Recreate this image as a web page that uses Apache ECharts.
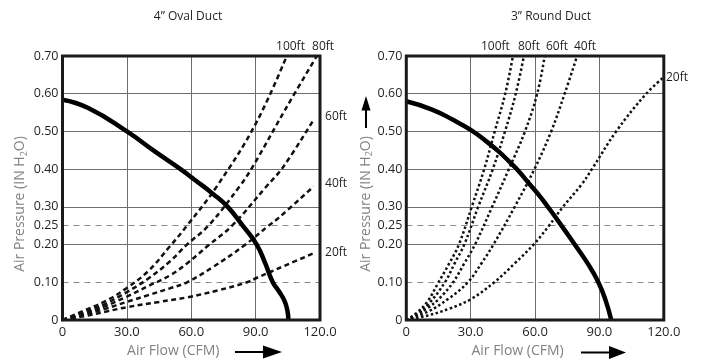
<!DOCTYPE html>
<html>
<head>
<meta charset="utf-8">
<script src="https://cdn.jsdelivr.net/npm/echarts@6/dist/echarts.min.js"></script>
<style>
  html, body { margin: 0; padding: 0; background: #fff; }
  #chart { width: 702px; height: 360px; }
</style>
</head>
<body>
<div id="chart"></div>
<script>
// tick labels
const yTickValues = [0, 0.1, 0.2, 0.25, 0.3, 0.4, 0.5, 0.6, 0.7];
const yTickLabels = ['0', '0.10', '0.20', '0.25', '0.30', '0.40', '0.50', '0.60', '0.70'];
const xTickValues = [0, 30, 60, 90, 120];
const xTickLabels = ['0', '30.0', '60.0', '90.0', '120.0'];
const solidLevels = [0.2, 0.3, 0.4, 0.5, 0.6];
const dashedLevels = [0.1, 0.25];
const ductLengths = ['100ft', '80ft', '60ft', '40ft', '20ft'];

// 4" oval duct: fan curve and system curves, [CFM, in H2O]
const ovalFan = [[0, 0.584], [12, 0.562], [30, 0.50], [43, 0.447], [55, 0.40], [62, 0.37], [70, 0.335], [77, 0.30], [84, 0.25], [90.5, 0.20], [94.5, 0.15], [98, 0.10], [101, 0.075], [103.5, 0.05], [104.8, 0.025], [105.3, 0]];
const oval100 = [[0, 0], [10, 0.025], [20, 0.05], [30, 0.085], [40, 0.13], [50, 0.195], [58, 0.25], [72, 0.355], [90, 0.52], [104.5, 0.70]];
const oval80 = [[0, 0], [10, 0.02], [20, 0.043], [30, 0.074], [40, 0.11], [50, 0.155], [58, 0.20], [68, 0.25], [83, 0.358], [89, 0.41], [104, 0.56], [118.5, 0.70]];
const oval60 = [[0, 0], [10, 0.017], [20, 0.037], [30, 0.062], [40, 0.09], [50, 0.118], [58, 0.15], [68, 0.198], [79, 0.25], [95, 0.354], [103, 0.407], [117, 0.531]];
const oval40 = [[0, 0], [10, 0.014], [20, 0.03], [30, 0.048], [40, 0.066], [50, 0.084], [58, 0.10], [70, 0.14], [85, 0.199], [96, 0.25], [100.6, 0.27], [117, 0.354]];
const oval20 = [[0, 0], [10, 0.01], [20, 0.022], [30, 0.034], [45, 0.048], [58, 0.06], [72.7, 0.079], [86, 0.10], [90.6, 0.112], [104, 0.145], [117, 0.177]];

// 3" round duct
const roundFan = [[0, 0.58], [12, 0.558], [22, 0.53], [30, 0.504], [37, 0.475], [43, 0.447], [48, 0.42], [52, 0.397], [57.5, 0.36], [62, 0.33], [66, 0.30], [72, 0.253], [78.5, 0.20], [84.5, 0.15], [89.5, 0.10], [93, 0.05], [95.5, 0]];
const round100 = [[0, 0], [5, 0.02], [10, 0.05], [15, 0.10], [20, 0.15], [24.5, 0.20], [30.5, 0.30], [36.3, 0.40], [41.2, 0.50], [46.1, 0.60], [49.7, 0.70]];
const round80 = [[0, 0], [5, 0.017], [10, 0.04], [18, 0.10], [22.5, 0.15], [27, 0.20], [33.5, 0.30], [40.3, 0.40], [46, 0.50], [51, 0.60], [54.8, 0.70]];
const round60 = [[0, 0], [5, 0.014], [10, 0.032], [15, 0.055], [21.8, 0.10], [27, 0.15], [32, 0.20], [40, 0.30], [47.8, 0.40], [55.3, 0.50], [61, 0.60], [64.5, 0.70]];
const round40 = [[0, 0], [10, 0.022], [20, 0.058], [28.7, 0.10], [35, 0.15], [40.6, 0.20], [50.5, 0.30], [59.7, 0.40], [67.5, 0.50], [73.8, 0.60], [79.6, 0.70]];
const round20 = [[0, 0], [10, 0.012], [20, 0.03], [30, 0.055], [41, 0.10], [50.5, 0.15], [59.3, 0.20], [66.5, 0.25], [73, 0.30], [81.5, 0.358], [86.5, 0.40], [97.8, 0.50], [111.8, 0.60], [119.6, 0.642]];

const FONT = '"Open Sans", "Noto Sans", sans-serif';
const INK = '#231f20';

// where the "NNft" tags sit relative to each curve's end point
const ovalTagOffsets = [[-10.7, -9.5], [-4.7, -9.5], [11.5, -3], [11.5, -2.6], [11.5, -1]];
const roundTagOffsets = [[-32, -9.5], [-6, -9.5], [1.2, -9.5], [-3.2, -9.5], [3, 0]];

function pickLabel(values, labels, v) {
  const i = values.findIndex(t => Math.abs(t - v) < 1e-6);
  return i < 0 ? '' : labels[i];
}

function xAxisFor(gridIndex, nameShift) {
  return {
    type: 'value',
    gridIndex,
    min: 0,
    max: 120,
    interval: 30,
    name: 'Air Flow (CFM)',
    nameLocation: 'middle',
    nameGap: 23,
    nameTextStyle: { color: '#808285', fontSize: 14, fontFamily: FONT, padding: [0, nameShift, 0, 0] },
    axisLine: { show: false },
    axisTick: { show: false },
    splitLine: { show: true, lineStyle: { color: '#6d6e71', width: 1 } },
    axisLabel: {
      margin: 6,
      color: INK,
      fontSize: 13,
      fontFamily: FONT,
      formatter: v => pickLabel(xTickValues, xTickLabels, v),
    },
  };
}

function yAxisFor(gridIndex, nameGap) {
  return {
    type: 'value',
    gridIndex,
    min: 0,
    max: 0.7,
    interval: 0.05,
    name: 'Air Pressure (IN H{sub|2}O)',
    nameLocation: 'middle',
    nameGap,
    nameTextStyle: {
      color: '#808285',
      fontSize: 14,
      fontFamily: FONT,
      lineHeight: 16,
      padding: [0, 32, 0, 0],
      rich: { sub: { fontSize: 9, fontFamily: FONT, color: '#808285', verticalAlign: 'bottom', lineHeight: 16 } },
    },
    axisLine: { show: false },
    axisTick: { show: false },
    splitLine: { show: false },
    axisLabel: {
      margin: 4,
      color: INK,
      fontSize: 12.5,
      fontFamily: FONT,
      formatter: v => pickLabel(yTickValues, yTickLabels, v),
    },
  };
}

function guideSeries(gridIndex) {
  return {
    type: 'line',
    data: [],
    xAxisIndex: gridIndex,
    yAxisIndex: gridIndex,
    silent: true,
    z: 1,
    markLine: {
      silent: true,
      z: 1,
      symbol: 'none',
      animation: false,
      label: { show: false },
      data: [
        ...solidLevels.map(v => ({ yAxis: v, lineStyle: { type: 'solid', color: '#6d6e71', width: 1 } })),
        ...dashedLevels.map(v => ({ yAxis: v, lineStyle: { type: [6, 5], color: '#8a8b8d', width: 1 } })),
      ],
    },
  };
}

function fanSeries(gridIndex, data) {
  return {
    type: 'line',
    data,
    xAxisIndex: gridIndex,
    yAxisIndex: gridIndex,
    smooth: 0.5,
    showSymbol: false,
    symbol: 'none',
    silent: true,
    z: 3,
    lineStyle: { color: '#000', width: 4.5 },
  };
}

function systemSeries(gridIndex, name, data, dash, offset) {
  return {
    type: 'line',
    name,
    data,
    xAxisIndex: gridIndex,
    yAxisIndex: gridIndex,
    smooth: 0.4,
    showSymbol: false,
    symbol: 'none',
    silent: true,
    z: 2,
    lineStyle: { color: '#111', width: 2.5, type: dash },
    endLabel: {
      show: true,
      formatter: name,
      distance: 0,
      align: 'left',
      verticalAlign: 'middle',
      offset,
      color: INK,
      fontSize: 12,
      fontFamily: FONT,
    },
  };
}

const ovalCurves = [oval100, oval80, oval60, oval40, oval20];
const roundCurves = [round100, round80, round60, round40, round20];

const gridBox = { top: 56, height: 264, width: 257.5, show: true, z: 10, borderColor: '#1a1a1a', borderWidth: 3, backgroundColor: 'transparent', containLabel: false, outerBoundsMode: 'none' };

const chart = echarts.init(document.getElementById('chart'));
chart.setOption({
  animation: false,
  backgroundColor: '#fff',
  grid: [
    Object.assign({ left: 62.5 }, gridBox),
    Object.assign({ left: 406.3 }, gridBox),
  ],
  xAxis: [xAxisFor(0, 36), xAxisFor(1, 35)],
  yAxis: [yAxisFor(0, 34), yAxisFor(1, 32)],
  graphic: [
    { type: 'text', x: 188, y: 17, style: { text: '4\u201d Oval Duct', align: 'center', verticalAlign: 'middle', textAlign: 'center', textVerticalAlign: 'middle', fill: INK, font: '12px ' + FONT } },
    { type: 'text', x: 551, y: 17, style: { text: '3\u201d Round Duct', align: 'center', verticalAlign: 'middle', textAlign: 'center', textVerticalAlign: 'middle', fill: INK, font: '12px ' + FONT } },
    // flow arrows beside the x axis names
    { type: 'line', shape: { x1: 235, y1: 352, x2: 266, y2: 352 }, style: { stroke: '#000', lineWidth: 2 } },
    { type: 'polygon', shape: { points: [[263, 345.5], [282, 352], [263, 358.5]] }, style: { fill: '#000' } },
    { type: 'line', shape: { x1: 581, y1: 352.5, x2: 612, y2: 352.5 }, style: { stroke: '#000', lineWidth: 2 } },
    { type: 'polygon', shape: { points: [[609, 346], [626, 352.5], [609, 359]] }, style: { fill: '#000' } },
    // pressure arrow on the right panel
    { type: 'line', shape: { x1: 366, y1: 128, x2: 366, y2: 108 }, style: { stroke: '#000', lineWidth: 2 } },
    { type: 'polygon', shape: { points: [[361.5, 110.5], [366, 96], [370.5, 110.5]] }, style: { fill: '#000' } },
  ],
  series: [
    guideSeries(0),
    guideSeries(1),
    fanSeries(0, ovalFan),
    fanSeries(1, roundFan),
    ...ductLengths.map((name, i) => systemSeries(0, name, ovalCurves[i], [5, 3.5], ovalTagOffsets[i])),
    ...ductLengths.map((name, i) => systemSeries(1, name, roundCurves[i], [2.5, 2.5], roundTagOffsets[i])),
  ],
});
</script>
</body>
</html>
